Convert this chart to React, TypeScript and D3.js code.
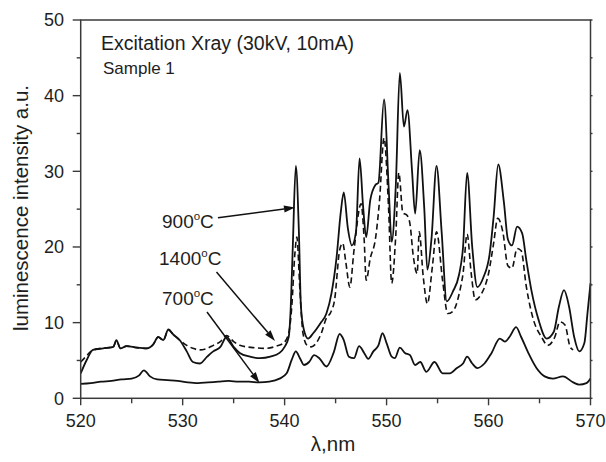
import React from "react";
import * as d3 from "d3";

// 900°C (solid, upper)
const s900: [number, number][] = [
  [520, 3.3], [520.6, 5.1], [521.2, 6.4], [522.2, 6.6], [523.2, 6.8], [523.5, 7.7], [523.9, 6.6],
  [524.5, 6.9], [525.5, 6.7], [526.5, 6.6], [527.1, 7.1], [527.6, 8.1], [528.1, 7.7], [528.6, 9.1],
  [529.1, 8.4], [529.7, 7.7], [530.4, 6.2], [531.0, 4.8], [531.7, 4.6], [532.4, 5.5], [533.0, 6.2],
  [533.7, 6.8], [534.3, 8.1], [535.0, 6.8], [535.6, 6.0], [536.6, 5.5], [537.6, 5.3], [538.6, 5.5],
  [539.5, 6.0], [540.0, 6.8], [540.4, 8.1], [540.6, 12], [540.8, 20], [541.1, 30.7], [541.4, 22],
  [541.6, 12.1], [541.9, 9.0], [542.3, 7.9], [542.8, 8.6], [543.5, 9.9], [544.1, 11.2], [544.6, 13.9],
  [545.1, 18.7], [545.5, 24.5], [545.8, 27.2], [546.2, 22.5], [546.6, 20.2], [547.0, 22], [547.35, 31.7],
  [547.7, 25.3], [548.0, 21.3], [548.4, 26.2], [548.9, 28.2], [549.2, 28.5], [549.75, 39.5], [550.2, 28],
  [550.5, 20.7], [550.9, 28], [551.3, 43], [551.7, 35.9], [552.05, 38.1], [552.5, 30], [552.8, 24.4],
  [553.25, 32.8], [553.7, 25], [554.0, 17], [554.4, 21], [554.9, 30.7], [555.4, 22], [555.9, 12.8],
  [556.5, 14.1], [557.1, 16.3], [557.5, 20], [557.9, 29.8], [558.4, 20], [558.9, 14.7], [559.5, 16],
  [560.1, 19], [560.5, 24], [560.95, 30.9], [561.5, 26], [561.9, 21], [562.3, 20.2], [562.8, 22.7],
  [563.3, 21.8], [563.7, 18.3], [564.2, 14.3], [564.9, 10.4], [565.7, 7.9], [566.4, 8.8], [566.9, 12.1],
  [567.4, 14.3], [567.9, 12.1], [568.4, 8.1], [568.9, 6.2], [569.4, 7.3], [569.7, 11.2], [570, 15.2],
];

// 1400°C (dashed)
const s1400: [number, number][] = [
  [520, 4.8], [520.5, 5.5], [521.0, 6.2], [521.5, 6.5], [522.2, 6.6], [523.2, 6.8], [523.5, 7.6],
  [523.9, 6.6], [524.5, 6.9], [525.5, 6.7], [526.5, 6.6], [527.1, 7.1], [527.6, 8.1], [528.1, 7.7],
  [528.6, 9.0], [529.1, 8.4], [529.7, 7.7], [530.4, 7.0], [531.0, 6.6], [531.7, 6.4], [532.4, 6.6],
  [533.0, 7.0], [533.7, 7.5], [534.3, 8.3], [535.0, 7.5], [535.6, 7.0], [536.9, 6.7], [538.2, 6.6],
  [539.2, 6.9], [539.9, 7.3], [540.4, 8.6], [540.7, 12.1], [541.0, 19], [541.2, 21.3], [541.5, 14.3],
  [541.8, 8.6], [542.2, 7.0], [542.6, 6.8], [543.1, 7.3], [543.6, 8.6], [544.1, 10.6], [544.5, 11.3],
  [544.9, 13.0], [545.4, 19.6], [545.7, 20.5], [546.0, 18], [546.4, 14.7], [546.8, 19.5], [547.5, 25.7],
  [547.8, 21], [548.0, 15.6], [548.4, 18.5], [548.9, 21], [549.3, 26], [549.75, 34.4], [550.2, 25],
  [550.5, 15.2], [550.9, 21.5], [551.2, 29.8], [551.6, 24.5], [552.0, 24.2], [552.3, 23], [552.6, 19],
  [553.0, 16.5], [553.2, 22.0], [553.6, 16], [554.0, 12.5], [554.5, 17.5], [554.9, 22.0], [555.5, 15.5],
  [556.0, 11.2], [556.5, 11.5], [557.2, 14.3], [557.5, 16.5], [557.9, 21.7], [558.3, 16.5], [558.7, 13.0],
  [559.3, 13.8], [560.0, 16.5], [560.5, 20.5], [560.9, 23.8], [561.4, 22], [561.9, 17.5], [562.3, 17.2],
  [562.8, 19.8], [563.2, 19.5], [563.7, 14.8], [564.4, 10.4], [565.2, 8.1], [565.8, 7.0], [566.5, 8.1],
  [567.0, 10.1], [567.5, 9.7], [568.0, 6.8], [568.3, 6.4],
];

// 700°C (solid, lower)
const s700: [number, number][] = [
  [520, 1.9], [521, 2.0], [522, 2.2], [523, 2.3], [524, 2.5], [525, 2.6], [525.7, 3.0], [526.2, 3.7],
  [526.8, 2.9], [527.5, 2.5], [528.5, 2.4], [529.5, 2.3], [530.5, 2.1], [531.5, 2.0], [532.5, 2.1],
  [533.5, 2.2], [534.5, 2.3], [535.5, 2.2], [536.5, 2.2], [537.5, 2.1], [538.5, 2.2], [539.5, 2.6],
  [540.2, 3.3], [540.7, 5.1], [541.1, 6.2], [541.5, 5.3], [541.9, 4.4], [542.4, 4.8], [542.9, 5.7],
  [543.4, 5.3], [544.1, 4.2], [544.8, 6.0], [545.4, 8.5], [545.8, 7.7], [546.3, 5.5], [546.8, 5.3],
  [547.3, 6.9], [547.8, 6.0], [548.2, 5.2], [548.7, 6.2], [549.2, 7.0], [549.6, 8.6], [550.0, 7.3],
  [550.5, 5.5], [550.8, 5.3], [551.3, 6.7], [551.8, 6.0], [552.3, 5.7], [552.8, 4.4], [553.3, 4.8],
  [553.9, 3.5], [554.7, 4.8], [555.5, 3.3], [556.2, 3.3], [556.9, 4.0], [557.5, 4.6], [557.9, 5.5],
  [558.4, 4.6], [558.9, 4.0], [559.6, 4.6], [560.3, 6.0], [561.1, 7.9], [561.6, 7.5], [562.1, 8.2],
  [562.7, 9.4], [563.2, 8.1], [563.9, 6.0], [564.7, 4.0], [565.5, 2.9], [566.3, 2.6], [567.3, 2.9],
  [568.3, 2.1], [568.9, 1.8], [569.6, 2.0], [570, 2.6],
];

const xTicks = [520, 530, 540, 550, 560, 570];
const yTicks = [0, 10, 20, 30, 40, 50];
const xMinor = [525, 535, 545, 555, 565];
const yMinor = [5, 15, 25, 35, 45];

const FONT = "'Liberation Sans', Arial, sans-serif";
const AX = "#3a3a3a";
const TXT = "#1e1e1e";

function Arrow({ x1, y1, x2, y2 }: { x1: number; y1: number; x2: number; y2: number }) {
  const ang = Math.atan2(y2 - y1, x2 - x1);
  const L = 11, W = 3.5;
  const bx = x2 - L * Math.cos(ang), by = y2 - L * Math.sin(ang);
  const px = -Math.sin(ang) * W, py = Math.cos(ang) * W;
  return (
    <g>
      <line x1={x1} y1={y1} x2={bx} y2={by} stroke="#111" strokeWidth={1.5} />
      <polygon points={`${x2},${y2} ${bx + px},${by + py} ${bx - px},${by - py}`} fill="#111" />
    </g>
  );
}

function TempLabel({ x, y, t }: { x: number; y: number; t: string }) {
  return (
    <text x={x} y={y} fontFamily={FONT} fontSize={19} fill={TXT}>
      {t}
      <tspan fontSize={11.5} dy={-8}>o</tspan>
      <tspan dy={8}>C</tspan>
    </text>
  );
}

export default function App() {
  const left = 80.7, right = 590.5, top = 20, bottom = 398.3;
  const x = d3.scaleLinear().domain([520, 570]).range([left, right]);
  const y = d3.scaleLinear().domain([0, 50]).range([bottom, top]);
  const line = d3
    .line<[number, number]>()
    .x((d) => x(d[0]))
    .y((d) => y(d[1]))
    .curve(d3.curveMonotoneX);

  return (
    <svg
      width={606}
      height={462}
      style={{ position: "absolute", left: 0, top: 0, background: "#fff" }}
    >
      <rect width={606} height={462} fill="#fff" />
      {/* curves */}
      <path d={line(s700) || ""} fill="none" stroke="#111" strokeWidth={1.8} />
      <path d={line(s1400) || ""} fill="none" stroke="#111" strokeWidth={1.6} strokeDasharray="6,3.5" />
      <path d={line(s900) || ""} fill="none" stroke="#111" strokeWidth={1.8} />

      {/* frame */}
      <rect x={left} y={top} width={right - left} height={bottom - top} fill="none" stroke={AX} strokeWidth={1.5} />

      {/* x ticks */}
      {xTicks.map((t) => (
        <g key={"xt" + t}>
          <line x1={x(t)} x2={x(t)} y1={bottom} y2={bottom + 7} stroke={AX} strokeWidth={1.4} />
          <text x={x(t)} y={427} textAnchor="middle" fontFamily={FONT} fontSize={18} fill={TXT}>
            {t}
          </text>
        </g>
      ))}
      {xMinor.map((t) => (
        <line key={"xm" + t} x1={x(t)} x2={x(t)} y1={bottom} y2={bottom + 5} stroke={AX} strokeWidth={1.4} />
      ))}
      {/* y ticks */}
      {yTicks.map((t) => (
        <g key={"yt" + t}>
          <line x1={left - 8} x2={left} y1={y(t)} y2={y(t)} stroke={AX} strokeWidth={1.4} />
          <line x1={right} x2={right + 2} y1={y(t)} y2={y(t)} stroke={AX} strokeWidth={1.4} />
          <text x={64} y={y(t) + 6.4} textAnchor="end" fontFamily={FONT} fontSize={18} fill={TXT}>
            {t}
          </text>
        </g>
      ))}
      {yMinor.map((t) => (
        <g key={"ym" + t}>
          <line x1={left - 4} x2={left} y1={y(t)} y2={y(t)} stroke={AX} strokeWidth={1.4} />
          <line x1={right} x2={right + 2} y1={y(t)} y2={y(t)} stroke={AX} strokeWidth={1.4} />
        </g>
      ))}

      {/* axis titles */}
      <text
        transform="translate(28,208) rotate(-90)"
        textAnchor="middle"
        fontFamily={FONT}
        fontSize={20.5}
        fill={TXT}
      >
        luminescence intensity a.u.
      </text>
      <text x={333} y={451} textAnchor="middle" fontFamily={FONT} fontSize={20.5} fill={TXT}>
        λ,nm
      </text>

      {/* annotations */}
      <text x={101} y={50} fontFamily={FONT} fontSize={19.5} fill={TXT}>
        Excitation Xray (30kV, 10mA)
      </text>
      <text x={103} y={74} fontFamily={FONT} fontSize={17} fill={TXT}>
        Sample 1
      </text>
      <TempLabel x={162} y={228} t="900" />
      <TempLabel x={159} y={265} t="1400" />
      <TempLabel x={162} y={305} t="700" />
      <Arrow x1={218} y1={217.7} x2={295} y2={207.5} />
      <Arrow x1={216.5} y1={272} x2={275} y2={341} />
      <Arrow x1={207} y1={312} x2={259.5} y2={383} />
    </svg>
  );
}
